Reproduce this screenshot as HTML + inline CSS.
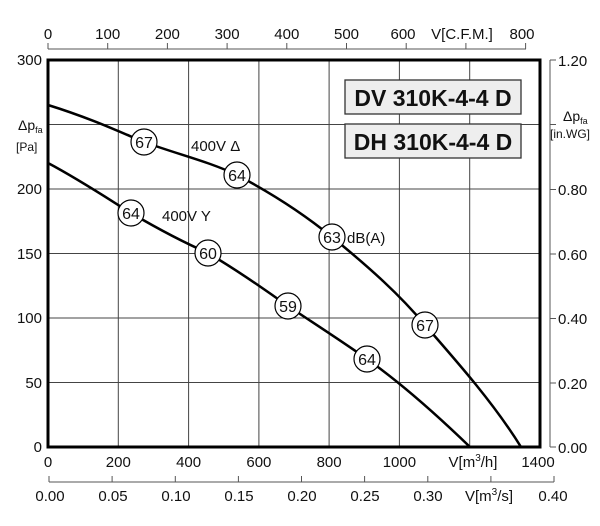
<!DOCTYPE html>
<html><head><meta charset="utf-8"><style>
html,body{margin:0;padding:0;background:#fff;}
svg text{font-family:"Liberation Sans",Arial,sans-serif;fill:#111;}
</style></head><body>
<svg width="600" height="521" viewBox="0 0 600 521" xmlns="http://www.w3.org/2000/svg">
<!-- grid -->
<g stroke="#444" stroke-width="1">
<line x1="118.3" y1="60" x2="118.3" y2="447"/><line x1="188.6" y1="60" x2="188.6" y2="447"/>
<line x1="258.9" y1="60" x2="258.9" y2="447"/><line x1="329.1" y1="60" x2="329.1" y2="447"/>
<line x1="399.4" y1="60" x2="399.4" y2="447"/><line x1="469.7" y1="60" x2="469.7" y2="447"/>
<line x1="48" y1="124.5" x2="540" y2="124.5"/><line x1="48" y1="189" x2="540" y2="189"/>
<line x1="48" y1="253.5" x2="540" y2="253.5"/><line x1="48" y1="318" x2="540" y2="318"/>
<line x1="48" y1="382.5" x2="540" y2="382.5"/>
</g>
<rect x="48" y="60" width="492" height="387" fill="none" stroke="#000" stroke-width="3"/>
<!-- top CFM axis -->
<g stroke="#555" stroke-width="1"><line x1="48" y1="49" x2="526" y2="49"/>
<line x1="48" y1="43" x2="48" y2="49"/><line x1="107.7" y1="43" x2="107.7" y2="49"/><line x1="167.4" y1="43" x2="167.4" y2="49"/><line x1="227.1" y1="43" x2="227.1" y2="49"/><line x1="286.8" y1="43" x2="286.8" y2="49"/><line x1="346.5" y1="43" x2="346.5" y2="49"/><line x1="406.2" y1="43" x2="406.2" y2="49"/><line x1="465.9" y1="43" x2="465.9" y2="49"/><line x1="525.6" y1="43" x2="525.6" y2="49"/></g>
<g font-size="15" text-anchor="middle">
<text x="48" y="39">0</text><text x="107.7" y="39">100</text><text x="167.4" y="39">200</text><text x="227.1" y="39">300</text><text x="286.8" y="39">400</text><text x="346.5" y="39">500</text><text x="403" y="39">600</text><text x="462" y="39">V[C.F.M.]</text><text x="522" y="39">800</text>
</g>
<!-- left axis labels -->
<g font-size="15" text-anchor="end">
<text x="42" y="65">300</text><text x="42" y="194">200</text><text x="42" y="259">150</text><text x="42" y="323">100</text><text x="42" y="388">50</text><text x="42" y="452">0</text>
</g>
<text x="18" y="130" font-size="14">Δp<tspan font-size="9" dy="3">fa</tspan></text>
<text x="16" y="151" font-size="12">[Pa]</text>
<!-- bottom m3/h -->
<g font-size="15" text-anchor="middle">
<text x="48" y="467">0</text><text x="118.3" y="467">200</text><text x="188.6" y="467">400</text><text x="258.9" y="467">600</text><text x="329.1" y="467">800</text><text x="399.4" y="467">1000</text><text x="473" y="467">V[m<tspan font-size="10" dy="-6">3</tspan><tspan dy="6">/h]</tspan></text><text x="538" y="467">1400</text>
</g>
<!-- m3/s axis -->
<g stroke="#555" stroke-width="1"><line x1="49" y1="482" x2="554" y2="482"/>
<line x1="49" y1="476" x2="49" y2="482"/><line x1="112.1" y1="476" x2="112.1" y2="482"/><line x1="175.3" y1="476" x2="175.3" y2="482"/><line x1="238.4" y1="476" x2="238.4" y2="482"/><line x1="301.5" y1="476" x2="301.5" y2="482"/><line x1="364.6" y1="476" x2="364.6" y2="482"/><line x1="427.8" y1="476" x2="427.8" y2="482"/><line x1="490.9" y1="476" x2="490.9" y2="482"/><line x1="554" y1="476" x2="554" y2="482"/></g>
<g font-size="15" text-anchor="middle">
<text x="50" y="501">0.00</text><text x="113" y="501">0.05</text><text x="176" y="501">0.10</text><text x="239" y="501">0.15</text><text x="302" y="501">0.20</text><text x="365" y="501">0.25</text><text x="428" y="501">0.30</text><text x="489" y="501">V[m<tspan font-size="10" dy="-6">3</tspan><tspan dy="6">/s]</tspan></text><text x="553" y="501">0.40</text>
</g>
<!-- right axis -->
<g stroke="#555" stroke-width="1"><line x1="550" y1="60" x2="550" y2="447"/>
<line x1="550" y1="60" x2="556" y2="60"/><line x1="550" y1="124.5" x2="556" y2="124.5"/><line x1="550" y1="189.5" x2="556" y2="189.5"/><line x1="550" y1="254" x2="556" y2="254"/><line x1="550" y1="318.5" x2="556" y2="318.5"/><line x1="550" y1="383" x2="556" y2="383"/><line x1="550" y1="447" x2="556" y2="447"/></g>
<g font-size="15">
<text x="558" y="66">1.20</text><text x="558" y="195">0.80</text><text x="558" y="260">0.60</text><text x="558" y="324">0.40</text><text x="558" y="389">0.20</text><text x="558" y="453">0.00</text>
</g>
<text x="563" y="121" font-size="14">Δp<tspan font-size="9" dy="3">fa</tspan></text>
<text x="550" y="138" font-size="12">[in.WG]</text>
<!-- title boxes -->
<rect x="345" y="80" width="176" height="34" fill="#eee" stroke="#333" stroke-width="1.3"/>
<text x="433" y="106" font-size="23" font-weight="bold" text-anchor="middle">DV 310K-4-4 D</text>
<rect x="345" y="124" width="176" height="34" fill="#eee" stroke="#333" stroke-width="1.3"/>
<text x="433" y="150" font-size="23" font-weight="bold" text-anchor="middle">DH 310K-4-4 D</text>
<!-- curves -->
<path d="M48,105 C90,118 120,132 144,142 C180,155 210,162 237,175 C275,195 305,215 332,237 C370,268 400,295 425,325 C460,365 495,405 521,447" fill="none" stroke="#000" stroke-width="2.5"/>
<path d="M48,163 C80,180 110,200 131,213 C160,230 185,243 208,253 C240,272 265,290 288,306 C315,324 340,340 367,359 C405,386 440,418 470,447" fill="none" stroke="#000" stroke-width="2.5"/>
<g fill="#fff" stroke="#000" stroke-width="1.2">
<circle cx="144" cy="142" r="13"/><circle cx="237" cy="175" r="13"/><circle cx="332" cy="237" r="13"/><circle cx="425" cy="325" r="13"/>
<circle cx="131" cy="213" r="13"/><circle cx="208" cy="253" r="13"/><circle cx="288" cy="306" r="13"/><circle cx="367" cy="359" r="13"/>
</g>
<g font-size="16" text-anchor="middle">
<text x="144" y="148">67</text><text x="237" y="181">64</text><text x="332" y="243">63</text><text x="425" y="331">67</text>
<text x="131" y="219">64</text><text x="208" y="259">60</text><text x="288" y="312">59</text><text x="367" y="365">64</text>
</g>
<g font-size="15">
<text x="191" y="151">400V Δ</text>
<text x="162" y="221">400V Y</text>
<text x="347" y="243">dB(A)</text>
</g>
</svg>
</body></html>
